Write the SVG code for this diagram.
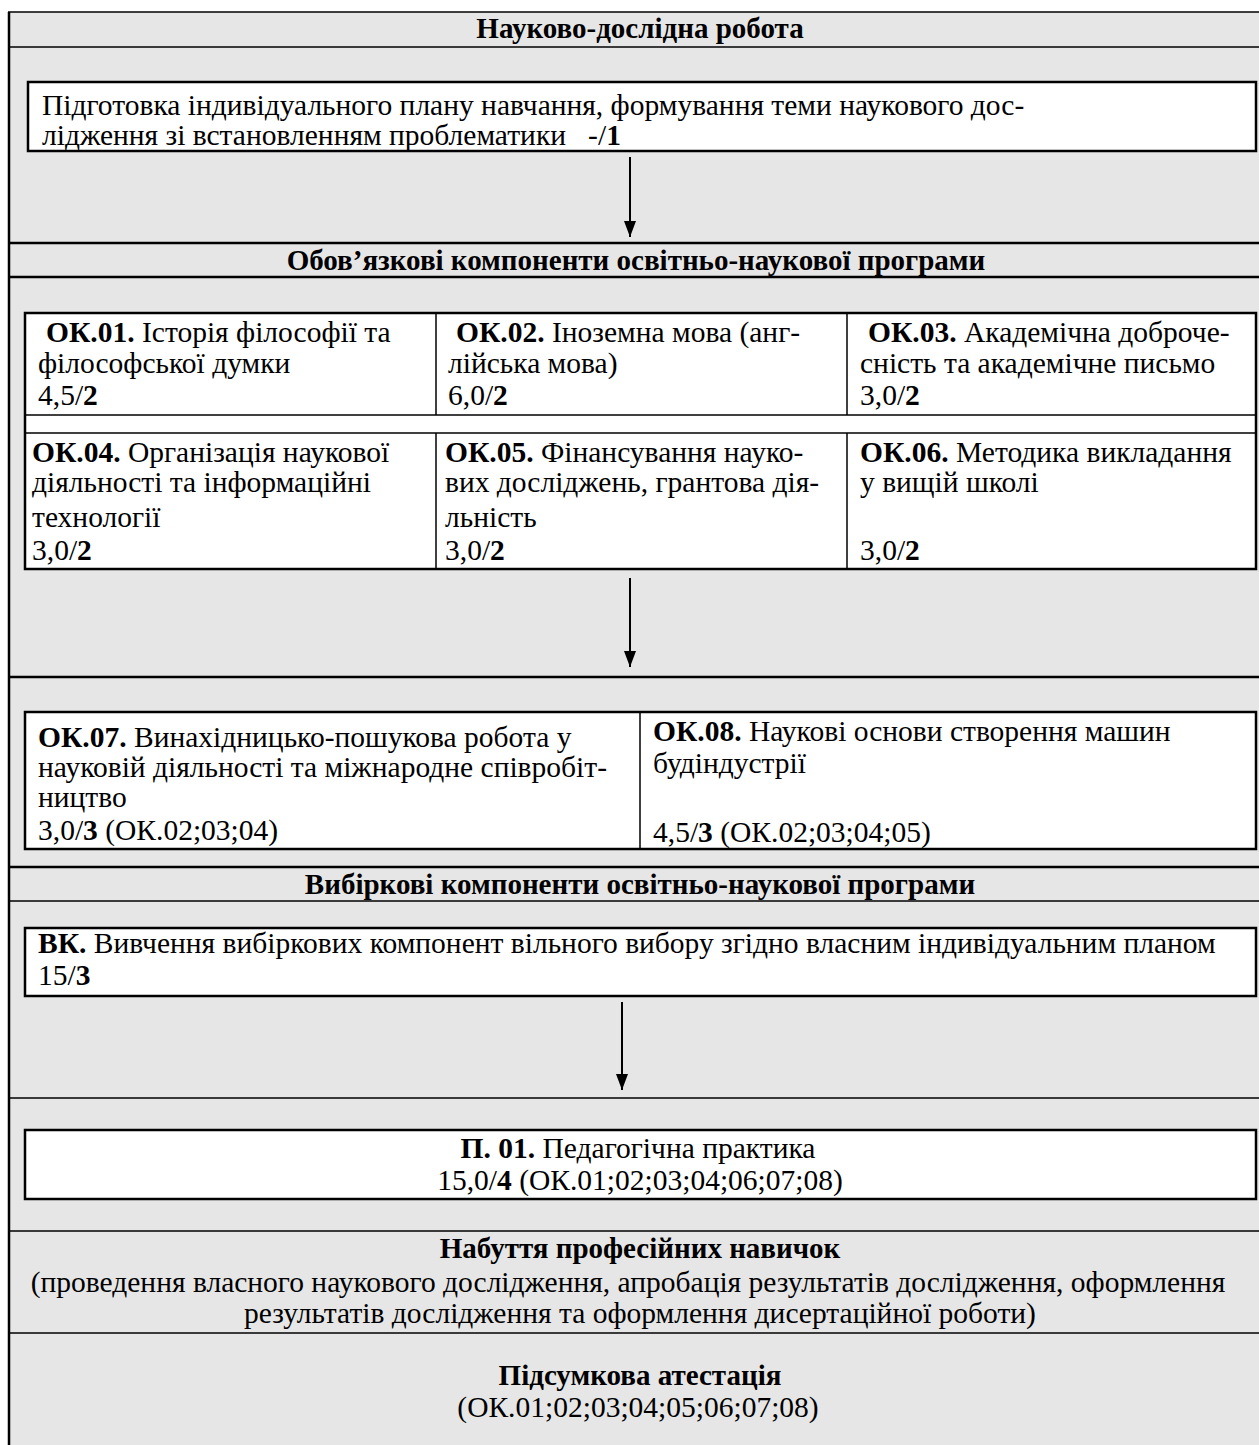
<svg xmlns="http://www.w3.org/2000/svg" width="1259" height="1445" viewBox="0 0 1259 1445">
<style>
text{font-family:"Liberation Serif","Times New Roman",serif;font-size:29.5px;fill:#000}
.b{font-weight:bold}
.h{font-weight:bold;font-size:29px}
.c{text-anchor:middle}
.band{stroke:#000;stroke-width:1.5}
.band2{stroke:#000;stroke-width:2.5}
.box{fill:#fff;stroke:#000;stroke-width:2.5}
.grid{stroke:#000;stroke-width:1.5}
.arr{stroke:#000;stroke-width:2;fill:none}
</style>
<defs>
<marker id="ah" viewBox="0 0 16 12" refX="16" refY="6" markerWidth="16" markerHeight="12" markerUnits="userSpaceOnUse" orient="auto" preserveAspectRatio="none">
<path d="M0,0 L16,6 L0,12 z" fill="#000"/>
</marker>
</defs>
<rect width="1259" height="1445" fill="#fff"/>
<rect x="8" y="12" width="1251" height="1433" fill="#e6e6e6"/>
<g id="frame">
<line x1="9" y1="12" x2="9" y2="1445" class="band2"/>
<line x1="8" y1="12" x2="1259" y2="12" class="band"/>
<line x1="8" y1="47" x2="1259" y2="47" class="band"/>
<line x1="8" y1="243" x2="1259" y2="243" class="band2"/>
<line x1="8" y1="277" x2="1259" y2="277" class="band2"/>
<line x1="8" y1="677" x2="1259" y2="677" class="band2"/>
<line x1="8" y1="867" x2="1259" y2="867" class="band2"/>
<line x1="8" y1="901" x2="1259" y2="901" class="band"/>
<line x1="8" y1="1098" x2="1259" y2="1098" class="band"/>
<line x1="8" y1="1231" x2="1259" y2="1231" class="band"/>
<line x1="8" y1="1333" x2="1259" y2="1333" class="band"/>
</g>
<g id="h1"><text x="640" y="38" class="h c">Науково-дослідна робота</text></g>
<g id="plan">
<rect x="28" y="82" width="1228" height="69" class="box"/>
<text x="42" y="115">Підготовка індивідуального плану навчання, формування теми наукового дос-</text>
<text x="42" y="145">лідження зі встановленням проблематики&#160;&#160; -/<tspan class="b">1</tspan></text>
</g>
<g id="h2"><text x="636" y="270" class="h c">Обов’язкові компоненти освітньо-наукової програми</text></g>
<g id="table1">
<rect x="25" y="313" width="1231" height="256" class="box"/>
<line x1="25" y1="415" x2="1256" y2="415" class="grid"/>
<line x1="25" y1="433" x2="1256" y2="433" class="grid"/>
<line x1="436" y1="313" x2="436" y2="415" class="grid"/>
<line x1="847" y1="313" x2="847" y2="415" class="grid"/>
<line x1="436" y1="433" x2="436" y2="569" class="grid"/>
<line x1="847" y1="433" x2="847" y2="569" class="grid"/>
</g>
<g id="ok01">
<text x="46" y="342"><tspan class="b">ОК.01.</tspan> Історія філософії та</text>
<text x="38" y="373">філософської думки</text>
<text x="38" y="405">4,5/<tspan class="b">2</tspan></text>
</g>
<g id="ok02">
<text x="456" y="342"><tspan class="b">ОК.02.</tspan> Іноземна мова (анг-</text>
<text x="448" y="373">лійська мова)</text>
<text x="448" y="405">6,0/<tspan class="b">2</tspan></text>
</g>
<g id="ok03">
<text x="868" y="342"><tspan class="b">ОК.03.</tspan> Академічна доброче-</text>
<text x="860" y="373">сність та академічне письмо</text>
<text x="860" y="405">3,0/<tspan class="b">2</tspan></text>
</g>
<g id="ok04">
<text x="32" y="462"><tspan class="b">ОК.04.</tspan> Організація наукової</text>
<text x="32" y="492">діяльності та інформаційні</text>
<text x="32" y="527">технології</text>
<text x="32" y="560">3,0/<tspan class="b">2</tspan></text>
</g>
<g id="ok05">
<text x="445" y="462"><tspan class="b">ОК.05.</tspan> Фінансування науко-</text>
<text x="445" y="492">вих досліджень, грантова дія-</text>
<text x="445" y="527">льність</text>
<text x="445" y="560">3,0/<tspan class="b">2</tspan></text>
</g>
<g id="ok06">
<text x="860" y="462"><tspan class="b">ОК.06.</tspan> Методика викладання</text>
<text x="860" y="492">у вищій школі</text>
<text x="860" y="560">3,0/<tspan class="b">2</tspan></text>
</g>
<g id="table2">
<rect x="25" y="712" width="1231" height="137" class="box"/>
<line x1="640" y1="712" x2="640" y2="849" class="grid"/>
</g>
<g id="ok07">
<text x="38" y="747"><tspan class="b">ОК.07.</tspan> Винахідницько-пошукова робота у</text>
<text x="38" y="777">науковій діяльності та міжнародне співробіт-</text>
<text x="38" y="807">ництво</text>
<text x="38" y="840">3,0/<tspan class="b">3</tspan> (ОК.02;03;04)</text>
</g>
<g id="ok08">
<text x="653" y="741"><tspan class="b">ОК.08.</tspan> Наукові основи створення машин</text>
<text x="653" y="773">будіндустрії</text>
<text x="653" y="842">4,5/<tspan class="b">3</tspan> (ОК.02;03;04;05)</text>
</g>
<g id="h3"><text x="640" y="894" class="h c">Вибіркові компоненти освітньо-наукової програми</text></g>
<g id="vk">
<rect x="25" y="928" width="1231" height="68" class="box"/>
<text x="38" y="953"><tspan class="b">ВК.</tspan> Вивчення вибіркових компонент вільного вибору згідно власним індивідуальним планом</text>
<text x="38" y="985">15/<tspan class="b">3</tspan></text>
</g>
<g id="p01">
<rect x="25" y="1130" width="1231" height="69" class="box"/>
<text x="638" y="1158" class="c"><tspan class="b">П. 01.</tspan> Педагогічна практика</text>
<text x="640" y="1190" class="c">15,0/<tspan class="b">4</tspan> (ОК.01;02;03;04;06;07;08)</text>
</g>
<g id="skills">
<text x="640" y="1258" class="h c">Набуття професійних навичок</text>
<text x="628" y="1292" class="c">(проведення власного наукового дослідження, апробація результатів дослідження, оформлення</text>
<text x="640" y="1323" class="c">результатів дослідження та оформлення дисертаційної роботи)</text>
</g>
<g id="final">
<text x="640" y="1385" class="h c">Підсумкова атестація</text>
<text x="638" y="1417" class="c">(ОК.01;02;03;04;05;06;07;08)</text>
</g>
<g id="connectors">
<line x1="630" y1="157" x2="630" y2="237" class="arr" marker-end="url(#ah)"/>
<line x1="630" y1="578" x2="630" y2="667" class="arr" marker-end="url(#ah)"/>
<line x1="622" y1="1002" x2="622" y2="1090" class="arr" marker-end="url(#ah)"/>
</g>
</svg>
